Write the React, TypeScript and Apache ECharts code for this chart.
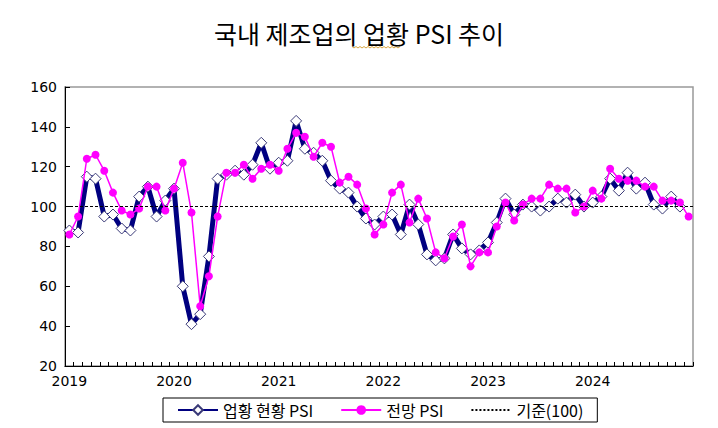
import React, { useEffect, useRef } from "react";
import * as echarts from "echarts";

const years = ["2019", "2020", "2021", "2022", "2023", "2024"];
const months = ["01", "02", "03", "04", "05", "06", "07", "08", "09", "10", "11", "12"];
const categories = years.flatMap((y) => months.map((m) => `${y}.${m}`));

// 업황 현황 PSI (2019.01 ~ 2024.11)
const currentPSI = [
  88, 87, 115, 114, 95, 96, 89, 88, 105, 110, 95, 103,
  109, 60, 41, 46, 75, 114, 116, 118, 116, 121, 132, 119,
  122, 123, 143, 129, 127, 123, 113, 109, 107, 100, 94, 91,
  95, 96, 86, 101, 91, 76, 73, 74, 86, 79, 76, 78,
  82, 92, 104, 96, 101, 100, 98, 100, 104, 102, 106, 100,
  102, 105, 114, 108, 117, 109, 112, 101, 99, 105, 100,
];

// 전망 PSI (2019.01 ~ 2024.12)
const outlookPSI = [
  86, 95, 124, 126, 118, 107, 98, 96, 99, 110, 110, 98,
  109, 122, 97, 50, 65, 95, 117, 117, 121, 114, 119, 121,
  118, 129, 137, 135, 125, 132, 130, 112, 115, 111, 99, 86,
  91, 107, 111, 92, 104, 94, 77, 74, 85, 91, 70, 77,
  77, 90, 102, 93, 101, 104, 104, 111, 109, 109, 97, 100,
  108, 104, 119, 114, 113, 113, 110, 110, 103, 103, 102, 95,
];

const baselineValue = 100;
const yMin = 20;
const yMax = 160;
const yStep = 20;

const titleText = "국내 제조업의 업황 PSI 추이";
const seriesNames = ["업황 현황 PSI", "전망 PSI", "기준(100)"];

export default function App() {
  const ref = useRef<HTMLDivElement>(null);

  useEffect(() => {
    if (!ref.current) return;
    const chart = echarts.init(ref.current, null, { renderer: "svg" });

    // squiggly underline (spell-check mark) under "업황"
    const squiggle: number[][] = [];
    for (let k = 0; k <= 24; k++) {
      squiggle.push([352 + k * 2, 46.5 + (k % 2 === 0 ? 0 : 1.5)]);
    }

    chart.setOption({
      animation: false,
      backgroundColor: "#fff",
      title: {
        text: titleText,
        left: "center",
        top: 15,
        textStyle: {
          fontFamily: "Noto Sans CJK KR",
          fontSize: 25,
          fontWeight: "normal",
          color: "#000",
        },
      },
      graphic: [
        {
          type: "polyline",
          shape: { points: squiggle },
          style: { stroke: "#D9A640", lineWidth: 1, fill: null },
          silent: true,
        },
      ],
      legend: {
        left: 163,
        top: 398,
        padding: [4, 14, 4, 14],
        itemGap: 27,
        itemWidth: 40,
        itemHeight: 12,
        borderColor: "#000",
        borderWidth: 1,
        textStyle: {
          fontFamily: "Noto Sans CJK KR",
          fontSize: 16,
          color: "#000",
        },
        data: [
          { name: seriesNames[0] },
          { name: seriesNames[1] },
          { name: seriesNames[2], itemStyle: { opacity: 0 } },
        ],
      },
      grid: {
        left: 65,
        right: 25,
        top: 87,
        bottom: 62,
        show: true,
        borderColor: "#999",
        borderWidth: 1.5,
      },
      xAxis: {
        type: "category",
        data: categories,
        boundaryGap: true,
        axisLine: { lineStyle: { color: "#000", width: 1 } },
        axisTick: { show: true, inside: true, interval: 0, length: 4, lineStyle: { color: "#000" } },
        axisLabel: {
          interval: (index: number) => index % 12 === 0,
          formatter: (v: string) => v.slice(0, 4),
          fontFamily: "DejaVu Sans",
          fontSize: 14,
          color: "#000",
          margin: 8,
        },
        splitLine: { show: false },
      },
      yAxis: {
        type: "value",
        min: yMin,
        max: yMax,
        interval: yStep,
        axisLine: { show: true, lineStyle: { color: "#000", width: 1 } },
        axisTick: { show: true, inside: true, length: 5, lineStyle: { color: "#000" } },
        axisLabel: {
          fontFamily: "DejaVu Sans",
          fontSize: 14,
          color: "#000",
          margin: 8,
        },
        splitLine: { show: false },
      },
      series: [
        {
          name: seriesNames[2],
          type: "line",
          data: [],
          symbol: "none",
          z: 1,
          lineStyle: { color: "#000", width: 1, type: [2, 2] },
          itemStyle: { color: "#000", opacity: 0 },
          markLine: {
            silent: true,
            symbol: "none",
            label: { show: false },
            lineStyle: { color: "#000", width: 1, type: [3, 2] },
            data: [{ yAxis: baselineValue }],
          },
        },
        {
          name: seriesNames[0],
          type: "line",
          data: currentPSI,
          z: 2,
          symbol: "diamond",
          symbolSize: 11,
          showSymbol: true,
          showAllSymbol: true,
          lineStyle: { color: "#000080", width: 5 },
          itemStyle: { color: "#fff", borderColor: "#3A3A78", borderWidth: 1 },
        },
        {
          name: seriesNames[1],
          type: "line",
          data: outlookPSI,
          z: 3,
          symbol: "circle",
          symbolSize: 8,
          showSymbol: true,
          showAllSymbol: true,
          lineStyle: { color: "#FF00FF", width: 1.5 },
          itemStyle: { color: "#FF00FF" },
        },
      ],
    });

    return () => chart.dispose();
  }, []);

  return <div ref={ref} style={{ width: 718, height: 428, position: "absolute", left: 0, top: 0 }} />;
}
